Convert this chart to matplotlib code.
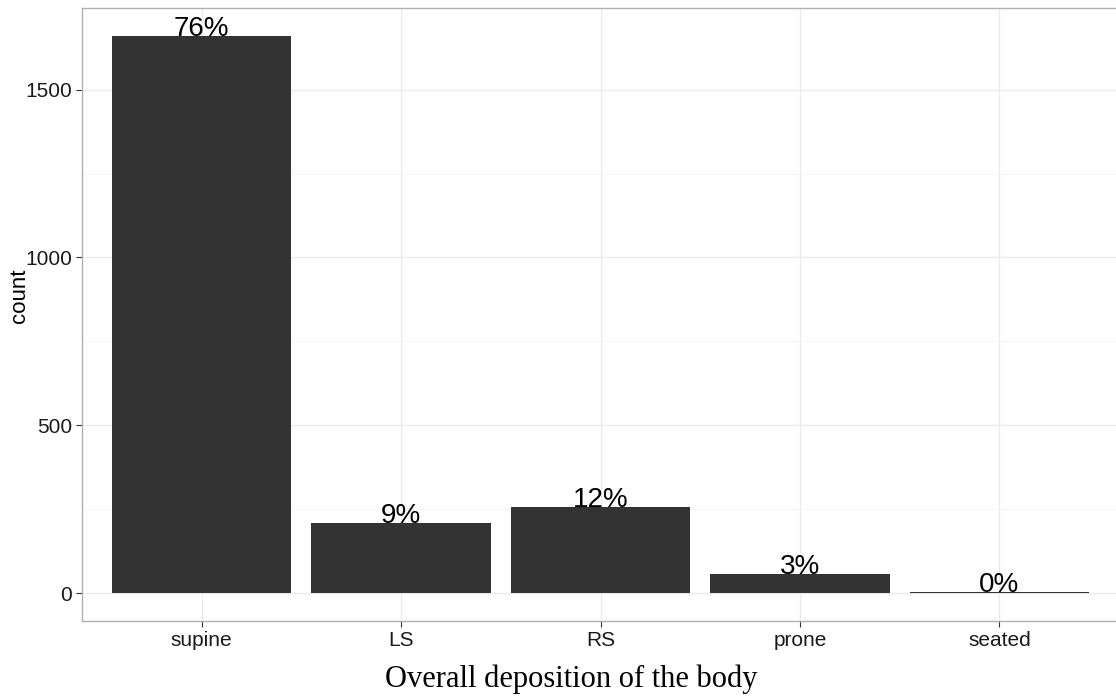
import matplotlib
matplotlib.use("Agg")
import matplotlib.pyplot as plt
from matplotlib.ticker import MultipleLocator

categories = ["supine", "LS", "RS", "prone", "seated"]
counts = [1660, 208, 256, 58, 2]
labels = ["76%", "9%", "12%", "3%", "0%"]

fig = plt.figure(figsize=(11.16, 7.0), dpi=100)
W, H = 1116, 700
ax = fig.add_axes([82 / W, (H - 621) / H, 1037 / W, 613 / H])

x = list(range(len(categories)))
ax.bar(x, counts, width=0.9, color="#333333", zorder=3)
for xi, c, lab in zip(x, counts, labels):
    ax.text(xi, c, lab, ha="center", va="baseline", fontsize=20,
            family="Liberation Sans", color="black", zorder=4)

ax.set_xlim(-0.6, 4.6)
ax.set_ylim(-83, 1743)
ax.set_xticks(x)
ax.set_xticklabels(categories)
ax.yaxis.set_major_locator(MultipleLocator(500))
ax.yaxis.set_minor_locator(MultipleLocator(250))
ax.grid(True, which="major", color="#EBEBEB", linewidth=1.0, zorder=0)
ax.grid(True, which="minor", axis="y", color="#F5F5F5", linewidth=0.7, zorder=0)
ax.tick_params(axis="both", which="major", labelsize=15, colors="#333333",
               length=4, width=0.8, pad=3)
ax.tick_params(axis="both", which="minor", length=0)
for lab in ax.get_xticklabels() + ax.get_yticklabels():
    lab.set_family("Liberation Sans")
    lab.set_color("#1a1a1a")
for s in ax.spines.values():
    s.set_color("#B0B0B0")
    s.set_linewidth(1.0)

fig.text(19 / W, 1 - 296 / H, "count", rotation=90, ha="center", va="center",
         fontsize=16, family="Liberation Sans", color="black")
fig.text(571 / W, (H - 687) / H, "Overall deposition of the body",
         ha="center", va="baseline", fontsize=22, family="Liberation Serif",
         color="black")

fig.savefig("out.png", dpi=100)
